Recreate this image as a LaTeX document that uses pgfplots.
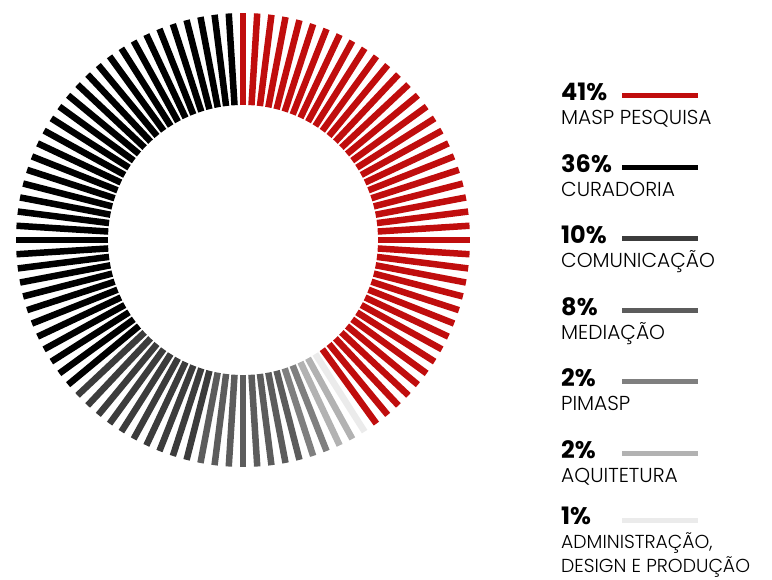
\documentclass[border=0pt]{standalone}
\usepackage{pgfplots}
\pgfplotsset{compat=1.18}
\usepackage{fontspec}
\setmainfont{Poppins}[UprightFont=* Light, BoldFont=* Bold]
\definecolor{cRed}{HTML}{C00D0D}
\definecolor{cBlack}{HTML}{000000}
\definecolor{cDark}{HTML}{3C3C3C}
\definecolor{cGray}{HTML}{5C5C5C}
\definecolor{cMid}{HTML}{7F7F7F}
\definecolor{cLight}{HTML}{B2B2B2}
\definecolor{cVLight}{HTML}{EBEBEB}
\newcommand{\pctfont}{\bfseries\fontsize{24}{24}\selectfont}
\newcommand{\labfont}{\fontsize{20.2}{21}\selectfont}
\newcommand{\labfontb}{\fontsize{18.8}{20}\selectfont}
\begin{document}
\begin{tikzpicture}[x=1pt,y=1pt]
\begin{axis}[at={(0,0)}, anchor=south west, scale only axis, width=772pt, height=580pt,
  xmin=-243, xmax=529, ymin=-340, ymax=240, hide axis, clip=false]
% MASP PESQUISA 41
\pgfplotsinvokeforeach{90,86.4,82.8,79.2,75.6,72,68.4,64.8,61.2,57.6,54,50.4,46.8,43.2,39.6,36,32.4,28.8,25.2,21.6,18,14.4,10.8,7.2,3.6,0,-3.6,-7.2,-10.8,-14.4,-18,-21.6,-25.2,-28.8,-32.4,-36,-39.6,-43.2,-46.8,-50.4,-54}{
  \addplot[cRed, line width=6.5pt, data cs=polar] coordinates {(#1,135) (#1,227)};}
% ADMINISTRACAO 1
\pgfplotsinvokeforeach{-57.6}{
  \addplot[cVLight, line width=6.5pt, data cs=polar] coordinates {(#1,135) (#1,227)};}
% AQUITETURA 2
\pgfplotsinvokeforeach{-61.2,-64.8}{
  \addplot[cLight, line width=6.5pt, data cs=polar] coordinates {(#1,135) (#1,227)};}
% PIMASP 2
\pgfplotsinvokeforeach{-68.4,-72}{
  \addplot[cMid, line width=6.5pt, data cs=polar] coordinates {(#1,135) (#1,227)};}
% MEDIACAO 8
\pgfplotsinvokeforeach{-75.6,-79.2,-82.8,-86.4,-90,-93.6,-97.2,-100.8}{
  \addplot[cGray, line width=6.5pt, data cs=polar] coordinates {(#1,135) (#1,227)};}
% COMUNICACAO 10
\pgfplotsinvokeforeach{-104.4,-108,-111.6,-115.2,-118.8,-122.4,-126,-129.6,-133.2,-136.8}{
  \addplot[cDark, line width=6.5pt, data cs=polar] coordinates {(#1,135) (#1,227)};}
% CURADORIA 36
\pgfplotsinvokeforeach{-140.4,-144,-147.6,-151.2,-154.8,-158.4,-162,-165.6,-169.2,-172.8,-176.4,-180,-183.6,-187.2,-190.8,-194.4,-198,-201.6,-205.2,-208.8,-212.4,-216,-219.6,-223.2,-226.8,-230.4,-234,-237.6,-241.2,-244.8,-248.4,-252,-255.6,-259.2,-262.8,-266.4}{
  \addplot[cBlack, line width=6.5pt, data cs=polar] coordinates {(#1,135) (#1,227)};}
\end{axis}
% legend
\foreach \i/\p/\c/\l in {0/41/cRed/MASP PESQUISA,1/36/cBlack/CURADORIA,2/10/cDark/COMUNICAÇÃO,3/8/cGray/MEDIAÇÃO,4/2/cMid/PIMASP,5/2/cLight/AQUITETURA}{
  \pgfmathsetmacro{\yp}{479-71.5*\i}
  \pgfmathsetmacro{\yl}{484-71.5*\i}
  \pgfmathsetmacro{\yt}{455-71.5*\i}
  \node[anchor=base west, inner sep=0pt, font=\pctfont] at (561,\yp) {\p\%};
  \draw[\c, line width=5pt] (622,\yl) -- (698,\yl);
  \node[anchor=base west, inner sep=0pt, font=\labfont] at (561,\yt) {\l};
}
\node[anchor=base west, inner sep=0pt, font=\pctfont] at (561,55.5) {1\%};
\draw[cVLight, line width=5pt] (622,59.5) -- (698,59.5);
\node[anchor=base west, inner sep=0pt, font=\labfontb] at (561,31) {ADMINISTRAÇÃO,};
\node[anchor=base west, inner sep=0pt, font=\labfontb] at (561,7) {DESIGN E PRODUÇÃO};
\pgfresetboundingbox
\path (0,0) rectangle (772,580);
\end{tikzpicture}
\end{document}
